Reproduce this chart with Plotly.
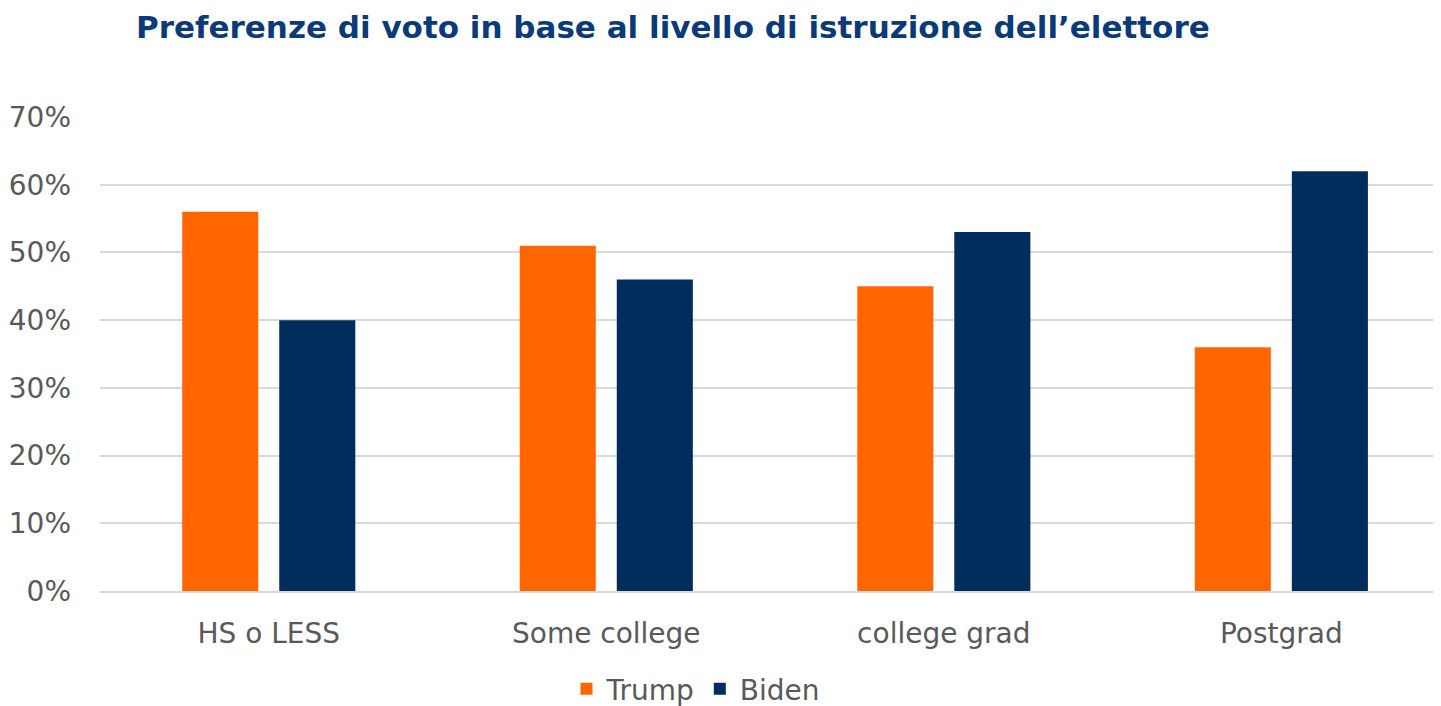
import plotly.graph_objects as go

categories = ["HS o LESS", "Some college", "college grad", "Postgrad"]
trump = [56, 51, 45, 36]
biden = [40, 46, 53, 62]
y_ticks = [0, 10, 20, 30, 40, 50, 60, 70]
y_ticklabels = [f"{v}%" for v in y_ticks]

FONT = "DejaVu Sans, sans-serif"
GRAY = "#595959"
W, H = 1433, 698  # page body has 8px margin

fig = go.Figure()
fig.add_trace(go.Bar(name="Trump", x=categories, y=trump, marker_color="#FF6600",
                     marker_line_width=0))
fig.add_trace(go.Bar(name="Biden", x=categories, y=biden, marker_color="#002D5C",
                     marker_line_width=0))

fig.update_layout(
    width=W, height=H,
    margin=dict(l=92, r=0, t=109, b=115),
    paper_bgcolor="white", plot_bgcolor="white",
    barmode="group", bargap=0.425, bargroupgap=0.216,
    title=dict(text="<b>Preferenze di voto in base al livello di istruzione dell’elettore</b>",
               x=128/W, xanchor="left", y=1-19/H, yanchor="middle",
               font=dict(family=FONT, size=31, color="#0B3A78")),
    font=dict(family=FONT, color=GRAY),
    showlegend=True,
    legend=dict(orientation="h", xref="container", yref="container",
                x=688/W, xanchor="center", y=1-681/H, yanchor="middle",
                font=dict(family=FONT, size=28, color=GRAY),
                itemwidth=30, traceorder="normal"),
)
fig.update_yaxes(range=[0, 70], tickvals=y_ticks, ticktext=y_ticklabels,
                 showgrid=True, gridcolor="#D9D9D9", gridwidth=2,
                 zeroline=False, showline=False,
                 tickfont=dict(family=FONT, size=28, color=GRAY),
                 ticklabelstandoff=28)
fig.update_xaxes(range=[-0.5, 3.473], showline=True, linecolor="#D9D9D9", linewidth=2,
                 tickfont=dict(family=FONT, size=28, color=GRAY),
                 ticks="", ticklabelstandoff=16)

fig.write_html("out.html")
